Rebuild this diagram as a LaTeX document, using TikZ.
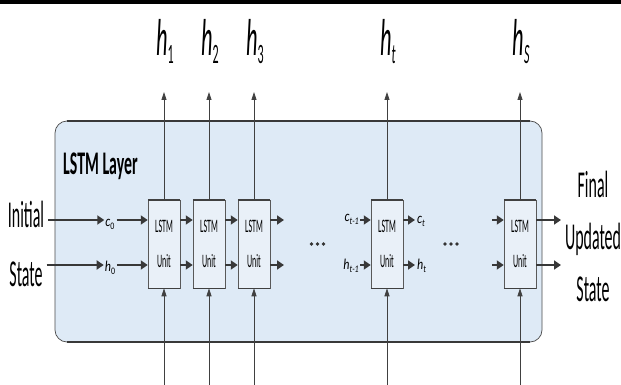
\documentclass[tikz,border=0pt]{standalone}
\usepackage{fontspec}
\setmainfont{Carlito}
\usetikzlibrary{arrows.meta}
\definecolor{layerfill}{HTML}{DEEAF6}
\definecolor{unitfill}{HTML}{E9F0F8}
\newcommand{\cmp}[2][0.42]{\scalebox{#1}[1]{#2}}
\begin{document}
\begin{tikzpicture}[x=1pt,y=-1pt,
  hthick/.style={-{Triangle[length=7pt,width=9pt]}, line width=1.8pt, draw=black!78},
  vthin/.style={-{Triangle[length=8pt,width=5pt]}, line width=0.8pt, draw=black!75},
  unitbox/.style={draw=gray!70!black, line width=0.5pt, fill=unitfill, minimum width=32pt, minimum height=88pt, inner sep=0pt, align=center, font=\fontsize{19}{35}\selectfont},
  bigtext/.style={inner sep=0pt, font=\fontsize{38}{38}\selectfont},
  hlab/.style={inner sep=0pt, font=\fontsize{52}{52}\selectfont},
  smalllab/.style={inner sep=0pt, font=\fontsize{15}{15}\selectfont},
  dotmark/.style={circle, fill=black!80, inner sep=0pt, minimum size=3.6pt},
  edgeline/.style={line width=2pt, draw=gray!45!black}
]
\useasboundingbox (0,0) rectangle (621,385);
\fill[white] (0,0) rectangle (621,385);
\fill[black] (0,0) rectangle (621,4);

% layer box
\node[draw=gray!60!black, fill=layerfill, rounded corners=12pt, line width=0.7pt,
      minimum width=487pt, minimum height=221pt, inner sep=0pt] (layer) at (298.5,231.5) {};
\draw[edgeline] ([xshift=12pt]layer.north west) -- ([xshift=-12pt]layer.north east);
\draw[edgeline] ([xshift=12pt]layer.south west) -- ([xshift=-12pt]layer.south east);

\node[anchor=base west, inner sep=0pt, font=\fontsize{33}{33}\selectfont\bfseries] (title) at (63,175) {\cmp[0.48]{LSTM Layer}};

\coordinate (crow) at (0,220);
\coordinate (hrow) at (0,265);

% units
\foreach \n/\x in {u1/164, u2/209, u3/254, ut/387, us/520}{
  \node[unitbox] (\n) at (\x,244) {\cmp{LSTM}\\\cmp{Unit}};
  \draw[line width=1.8pt, gray!50!black] (\n.north west) -- (\n.north east);
  \draw[line width=1.2pt, gray!50!black] (\n.south west) -- (\n.south east);
  \coordinate (top\n) at (\x,92);
  \coordinate (bot\n) at (\x,385);
  \draw[vthin] (\n.north) -- (top\n);
  \draw[vthin] (bot\n) -- (\n.south);
}

% output labels
\node[hlab, anchor=base] (h1) at (165,56) {\cmp[0.43]{\textit{h}\raisebox{-8pt}{\fontsize{28}{28}\selectfont 1}}};
\node[hlab, anchor=base] (h2) at (210,56) {\cmp[0.43]{\textit{h}\raisebox{-8pt}{\fontsize{28}{28}\selectfont 2}}};
\node[hlab, anchor=base] (h3) at (255,56) {\cmp[0.43]{\textit{h}\raisebox{-8pt}{\fontsize{28}{28}\selectfont 3}}};
\node[hlab, anchor=base] (ht) at (388,56) {\cmp[0.43]{\textit{h}\raisebox{-8pt}{\fontsize{28}{28}\selectfont\itshape t}}};
\node[hlab, anchor=base] (hs) at (521,56) {\cmp[0.43]{\textit{h}\raisebox{-8pt}{\fontsize{28}{28}\selectfont\itshape S}}};

% initial state
\node[bigtext, anchor=base] (init) at (26,227) {\cmp{Initial}};
\node[bigtext, anchor=base] (stL) at (26,286) {\cmp{State}};
\node[smalllab] (c0) at (110,224) {\cmp[0.8]{\textit{c}\raisebox{-3pt}{\fontsize{10}{10}\selectfont 0}}};
\node[smalllab] (h0) at (110,268) {\cmp[0.8]{\textit{h}\raisebox{-3pt}{\fontsize{10}{10}\selectfont 0}}};
\draw[hthick] ([xshift=4pt]init.east |- crow) -- ([xshift=-1pt]c0.west |- crow);
\draw[hthick] ([xshift=4pt]stL.east |- hrow) -- ([xshift=-1pt]h0.west |- hrow);
\draw[hthick] ([xshift=2pt]c0.east |- crow) -- (u1.west |- crow);
\draw[hthick] ([xshift=2pt]h0.east |- hrow) -- (u1.west |- hrow);

% between units
\draw[hthick] (u1.east |- crow) -- (u2.west |- crow);
\draw[hthick] (u1.east |- hrow) -- (u2.west |- hrow);
\draw[hthick] (u2.east |- crow) -- (u3.west |- crow);
\draw[hthick] (u2.east |- hrow) -- (u3.west |- hrow);
\coordinate (u3c) at (284,220);
\coordinate (u3h) at (284,265);
\draw[hthick] (u3.east |- crow) -- (u3c);
\draw[hthick] (u3.east |- hrow) -- (u3h);

% dots
\foreach \i/\x in {1/311.5, 2/317.5, 3/323.5, 4/445, 5/451, 6/457}
  \node[dotmark] (dot\i) at (\x,244) {};

% unit t
\node[smalllab, anchor=east] (ctm) at (359,219) {\cmp[0.8]{\textit{c}\raisebox{-3pt}{\fontsize{10}{10}\selectfont\itshape t\/-1}}};
\node[smalllab, anchor=east] (htm) at (359,266) {\cmp[0.8]{\textit{h}\raisebox{-3pt}{\fontsize{10}{10}\selectfont\itshape t\/-1}}};
\node[smalllab, anchor=west] (ctl) at (417,221) {\cmp[0.8]{\textit{c}\raisebox{-3pt}{\fontsize{10}{10}\selectfont\itshape t}}};
\node[smalllab, anchor=west] (htl) at (417,266) {\cmp[0.8]{\textit{h}\raisebox{-3pt}{\fontsize{10}{10}\selectfont\itshape t}}};
\draw[hthick] ([xshift=1pt]ctm.east |- crow) -- (ut.west |- crow);
\draw[hthick] ([xshift=1pt]htm.east |- hrow) -- (ut.west |- hrow);
\draw[hthick] (ut.east |- crow) -- ([xshift=-2pt]ctl.west |- crow);
\draw[hthick] (ut.east |- hrow) -- ([xshift=-2pt]htl.west |- hrow);

% unit S
\coordinate (usci) at (492,220);
\coordinate (ushi) at (492,265);
\coordinate (usco) at (561,220);
\coordinate (usho) at (561,265);
\draw[hthick] (usci) -- (us.west |- crow);
\draw[hthick] (ushi) -- (us.west |- hrow);
\draw[hthick] (us.east |- crow) -- (usco);
\draw[hthick] (us.east |- hrow) -- (usho);

% final state
\node[bigtext, anchor=base] (fin) at (593,197) {\cmp{Final}};
\node[bigtext, anchor=base] (upd) at (593,249) {\cmp{Updated}};
\node[bigtext, anchor=base] (stR) at (593,301) {\cmp{State}};
\end{tikzpicture}
\end{document}
